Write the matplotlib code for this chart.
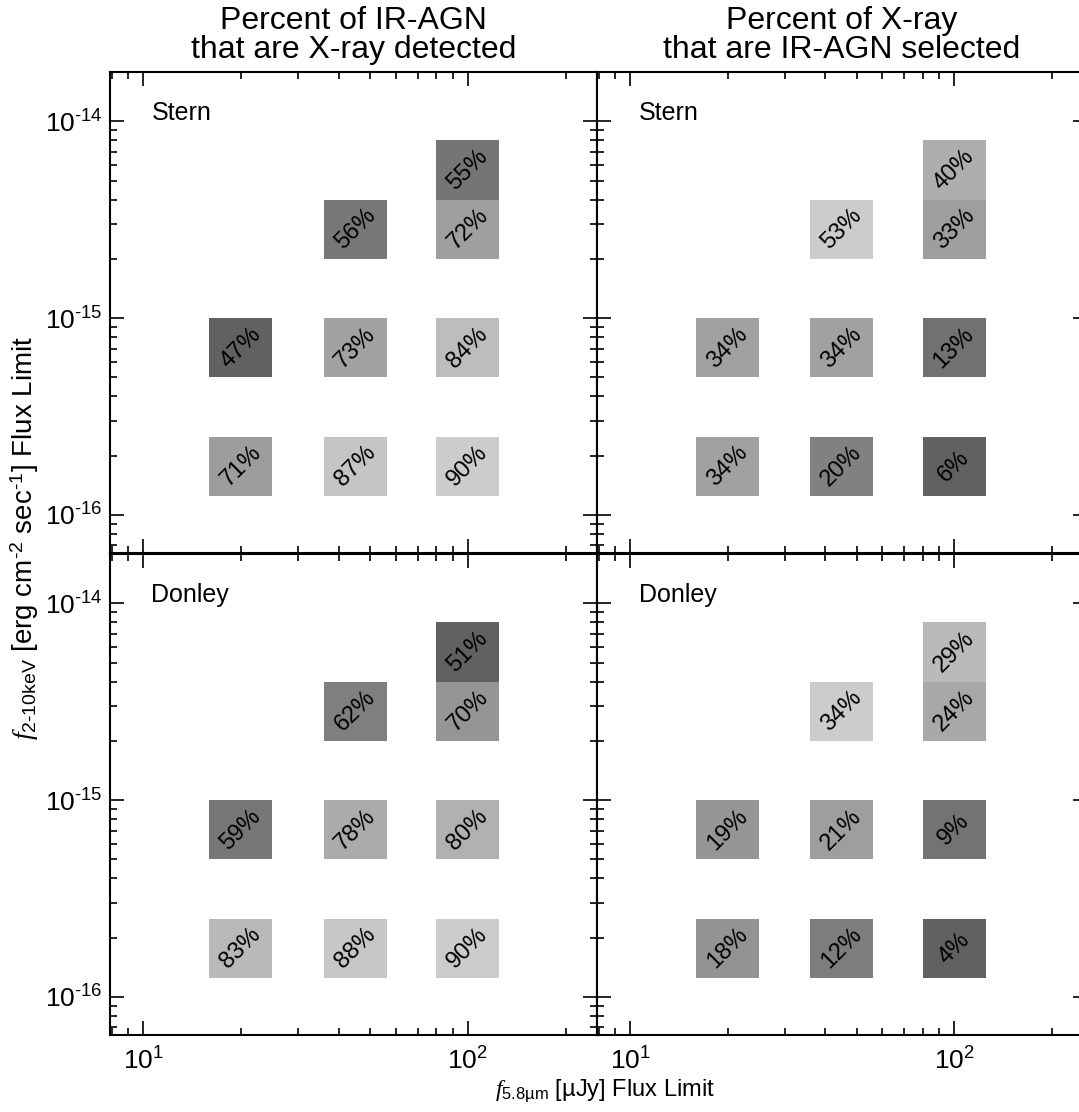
import numpy as np
import matplotlib
matplotlib.use("Agg")
import matplotlib.pyplot as plt
from matplotlib.patches import Rectangle
from matplotlib.ticker import LogLocator, NullFormatter, FuncFormatter

plt.rcParams['font.family'] = ['Liberation Sans', 'DejaVu Sans']
plt.rcParams['mathtext.fontset'] = 'custom'
plt.rcParams['mathtext.rm'] = 'Liberation Sans'
plt.rcParams['mathtext.it'] = 'Liberation Serif:italic'
plt.rcParams['mathtext.bf'] = 'Liberation Sans:bold'

# IR (5.8um) flux limits [uJy], one per column
ir_limits = [20, 45, 100]
# X-ray flux bins (lower edge) [erg/cm2/s], one per row, bins span a factor 2
xray_lo = [1.25e-16, 5e-16, 2e-15, 4e-15]

# percentages, rows from faint to bright X-ray limit, None = no cell
stern_ir = [[71, 87, 90], [47, 73, 84], [None, 56, 72], [None, None, 55]]
stern_x = [[34, 20, 6], [34, 34, 13], [None, 53, 33], [None, None, 40]]
donley_ir = [[83, 88, 90], [59, 78, 80], [None, 62, 70], [None, None, 51]]
donley_x = [[18, 12, 4], [19, 21, 9], [None, 34, 24], [None, None, 29]]

titles = ["Percent of IR-AGN\nthat are X-ray detected",
          "Percent of X-ray\nthat are IR-AGN selected"]
panels = [(stern_ir, "Stern"), (stern_x, "Stern"),
          (donley_ir, "Donley"), (donley_x, "Donley")]


def pow10(v, pos):
    e = int(round(np.log10(v)))
    if e < 0:
        return r"$\mathdefault{10^{\text{-}%d}}$" % (-e)
    return r"$\mathdefault{10^{%d}}$" % e


fig = plt.figure(figsize=(10.79, 11.12), dpi=100)

lefts = [0.1019, 0.5533]
widths = [0.4514, 0.4541]
xmax = [250, 10 ** 2.41]
bottoms = [0.5027, 0.0692]
h = 0.4325

for k, (grid, name) in enumerate(panels):
    row, col = divmod(k, 2)
    ax = fig.add_axes([lefts[col], bottoms[row], widths[col], h])
    ax.set_xscale('log')
    ax.set_yscale('log')
    ax.set_xlim(7.9, xmax[col])
    ax.set_ylim(6.4e-17, 1.78e-14)

    vals = [v for r in grid for v in r if v is not None]
    pmin, pmax = min(vals), max(vals)
    for i, r in enumerate(grid):
        for j, v in enumerate(r):
            if v is None:
                continue
            x0 = ir_limits[j] / 1.25
            x1 = ir_limits[j] * 1.25
            y0 = xray_lo[i]
            y1 = xray_lo[i] * 2
            g = 0.38 + 0.42 * (v - pmin) / (pmax - pmin)
            ax.add_patch(Rectangle((x0, y0), x1 - x0, y1 - y0,
                                   facecolor=(g, g, g), edgecolor='none', zorder=1))
            ax.text(ir_limits[j], xray_lo[i] * np.sqrt(2), f"{v}%", rotation=45,
                    ha='center', va='center', rotation_mode='anchor',
                    fontsize=17, zorder=2)

    ax.text(0.085, 0.915, name, transform=ax.transAxes, ha='left', va='center',
            fontsize=18)

    for s in ax.spines.values():
        s.set_linewidth(1.5)
    ax.xaxis.set_major_locator(LogLocator(base=10))
    ax.xaxis.set_minor_locator(LogLocator(base=10, subs=np.arange(2, 10)))
    ax.yaxis.set_minor_locator(LogLocator(base=10, subs=np.arange(2, 10)))
    ax.xaxis.set_major_formatter(FuncFormatter(pow10))
    ax.yaxis.set_major_formatter(FuncFormatter(pow10))
    ax.xaxis.set_minor_formatter(NullFormatter())
    ax.yaxis.set_minor_formatter(NullFormatter())
    ax.tick_params(which='both', direction='in', top=True, right=True,
                   labelsize=19, width=1.2)
    ax.tick_params(which='major', length=10)
    ax.tick_params(which='minor', length=5)
    ax.tick_params(axis='x', which='major', pad=9)
    ax.tick_params(axis='y', which='major', pad=5)
    if col == 1:
        ax.tick_params(labelleft=False)
    if row == 0:
        ax.tick_params(labelbottom=False)
        ax.set_title(titles[col], fontsize=23, pad=10, linespacing=0.95)

fig.text(0.561, 0.019, r"$f_{\mathrm{5.8µm}}$ [µJy] Flux Limit",
         ha='center', va='center', fontsize=17)
fig.text(0.023, 0.516, r"$f_{\mathrm{2\text{-}10keV}}$ [erg cm$^{\text{-}2}$ sec$^{\text{-}1}$] Flux Limit",
         ha='center', va='center', rotation=90, fontsize=20)

fig.savefig("out.png", dpi=100)
